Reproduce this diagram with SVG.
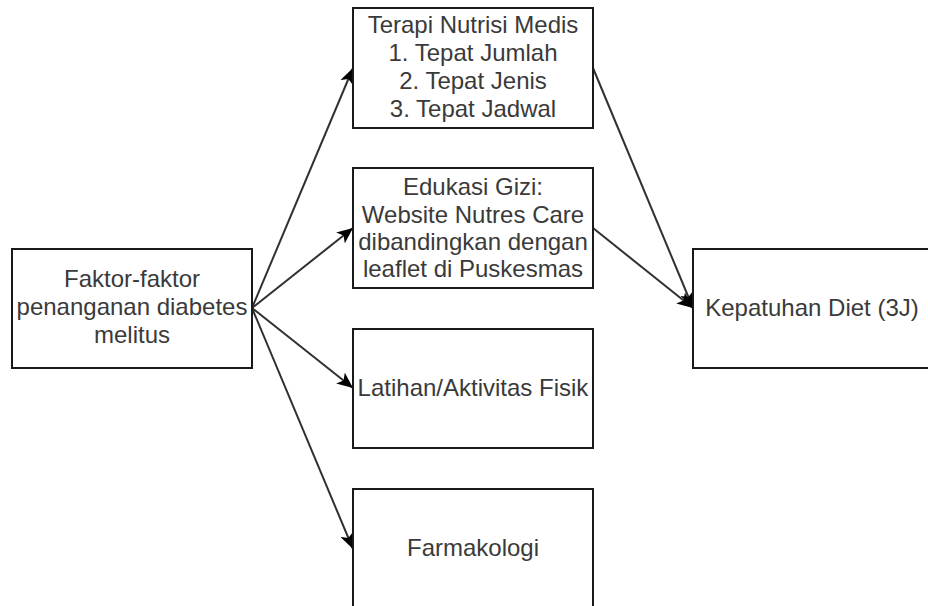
<svg xmlns="http://www.w3.org/2000/svg" width="928" height="606" viewBox="0 0 928 606">
  <style>
    .box { fill: #ffffff; stroke: #1a1a1a; stroke-width: 2; }
    .lbl { font-family: "Liberation Sans", Arial, sans-serif; font-size: 24px; fill: #3a3a3a; text-anchor: middle; }
    .edge { fill: none; stroke: #303030; stroke-width: 2; marker-end: url(#arr); }
  </style>
  <defs>
    <marker id="arr" markerUnits="userSpaceOnUse" markerWidth="18" markerHeight="14" refX="16" refY="7" orient="auto" viewBox="0 0 18 14">
      <path d="M0,0 L16,7 L0,14 L4,7 z" fill="#000000"/>
    </marker>
  </defs>
  <rect width="928" height="606" fill="#ffffff"/>

  <g id="connectors">
    <line class="edge" x1="252" y1="308" x2="353" y2="68"/>
    <line class="edge" x1="252" y1="308" x2="353" y2="228"/>
    <line class="edge" x1="252" y1="308" x2="353" y2="388"/>
    <line class="edge" x1="252" y1="308" x2="353" y2="549"/>
    <line class="edge" x1="593" y1="68" x2="693" y2="308"/>
    <line class="edge" x1="593" y1="228" x2="693" y2="308"/>
  </g>

  <g id="faktor">
    <rect class="box" x="12" y="249" width="240" height="119"/>
    <text class="lbl" x="132" y="287">Faktor-faktor</text>
    <text class="lbl" x="132" y="315">penanganan diabetes</text>
    <text class="lbl" x="132" y="343">melitus</text>
  </g>

  <g id="terapi">
    <rect class="box" x="353" y="8" width="240" height="120"/>
    <text class="lbl" x="473" y="33">Terapi Nutrisi Medis</text>
    <text class="lbl" x="473" y="61">1. Tepat Jumlah</text>
    <text class="lbl" x="473" y="89">2. Tepat Jenis</text>
    <text class="lbl" x="473" y="117">3. Tepat Jadwal</text>
  </g>

  <g id="edukasi">
    <rect class="box" x="353" y="168" width="240" height="120"/>
    <text class="lbl" x="473" y="195">Edukasi Gizi:</text>
    <text class="lbl" x="473" y="223">Website Nutres Care</text>
    <text class="lbl" x="473" y="250">dibandingkan dengan</text>
    <text class="lbl" x="473" y="277">leaflet di Puskesmas</text>
  </g>

  <g id="latihan">
    <rect class="box" x="353" y="329" width="240" height="119"/>
    <text class="lbl" x="473" y="396">Latihan/Aktivitas Fisik</text>
  </g>

  <g id="farmakologi">
    <rect class="box" x="353" y="489" width="240" height="120"/>
    <text class="lbl" x="473" y="556">Farmakologi</text>
  </g>

  <g id="kepatuhan">
    <rect class="box" x="693" y="249" width="240" height="119"/>
    <text class="lbl" x="812" y="316">Kepatuhan Diet (3J)</text>
  </g>
</svg>
